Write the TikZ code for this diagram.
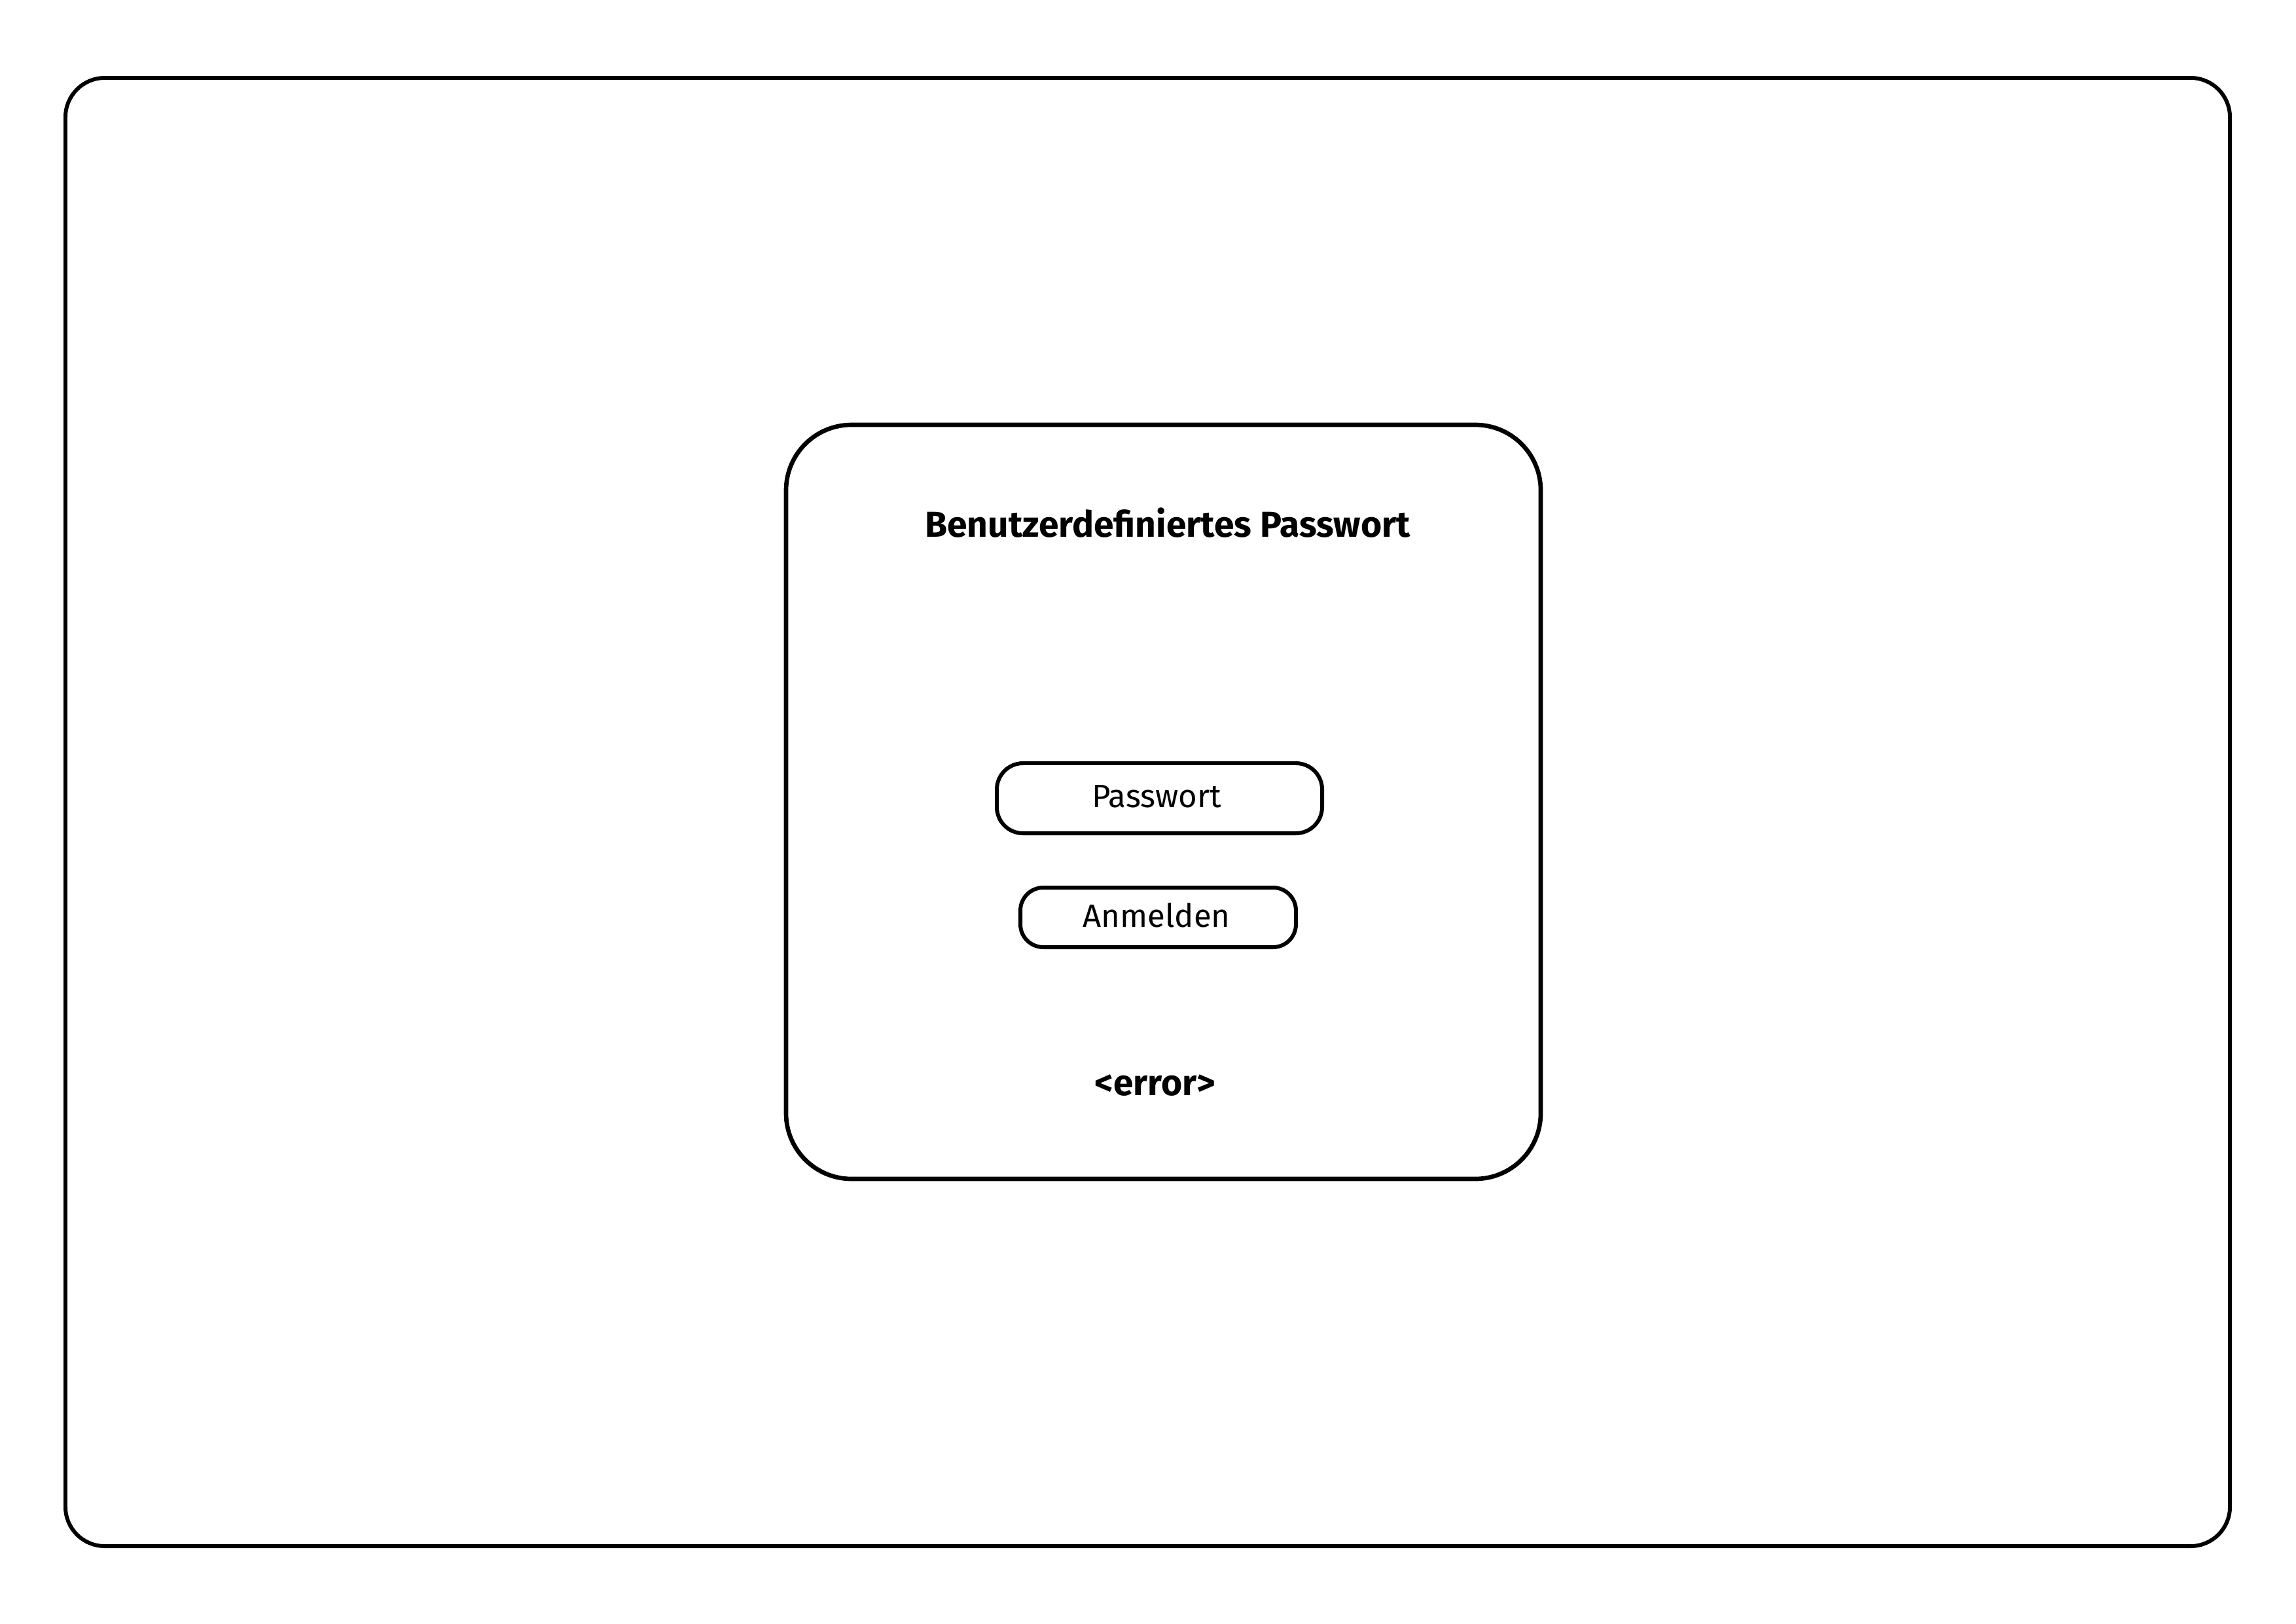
\documentclass[tikz,border=0pt]{standalone}
\usepackage{fontspec}
\setmainfont{Fira Sans}
\begin{document}
\begin{tikzpicture}[
  frame/.style={draw, line width=1.7pt, rectangle, inner sep=0pt},
  label/.style={font=\fontsize{14}{16}\selectfont},
  titlelabel/.style={font=\fontsize{15.7}{18}\selectfont\bfseries}
]
\useasboundingbox (0,0) rectangle (35.08,-24.80);
\node[frame, rounded corners=0.6cm, minimum width=33.07cm, minimum height=22.43cm] (outer) at (17.535,-12.405) {};
\node[frame, line width=1.9pt, rounded corners=1.0cm, minimum width=11.53cm, minimum height=11.52cm] (dialog) at (17.775,-12.25) {};
\node[titlelabel] (title) at (17.84,-7.99) {Benutzerdefiniertes Passwort};
\node[frame, rounded corners=0.4cm, minimum width=4.97cm, minimum height=1.07cm] (pwbox) at (17.715,-12.195) {};
\node[label] (pwtext) at (17.67,-12.17) {Passwort};
\node[frame, rounded corners=0.35cm, minimum width=4.21cm, minimum height=0.91cm] (loginbox) at (17.695,-14.015) {};
\node[label] (logintext) at (17.67,-13.98) {Anmelden};
\node[titlelabel] (error) at (17.65,-16.58) {<error>};
\end{tikzpicture}
\end{document}
